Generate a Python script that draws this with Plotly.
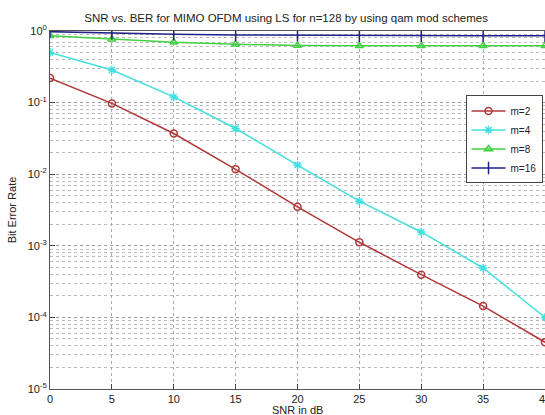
import plotly.graph_objects as go

snr = [0, 5, 10, 15, 20, 25, 30, 35, 40]
ber_m2 = [0.22, 0.0975, 0.037, 0.0117, 0.0035, 0.00112, 0.000395, 0.000144, 0.000045]
ber_m4 = [0.50, 0.285, 0.12, 0.0435, 0.0134, 0.0042, 0.00156, 0.00049, 0.000100]
ber_m8 = [0.86, 0.765, 0.695, 0.655, 0.625, 0.62, 0.62, 0.62, 0.62]
ber_m16 = [0.98, 0.93, 0.90, 0.88, 0.87, 0.86, 0.86, 0.86, 0.86]
labels = ["m=2", "m=4", "m=8", "m=16"]
ytick_vals = [1e-5, 1e-4, 1e-3, 1e-2, 1e-1, 1]
ytick_text = ["10<sup>-5</sup>", "10<sup>-4</sup>", "10<sup>-3</sup>", "10<sup>-2</sup>",
              "10<sup>-1</sup>", "10<sup>0</sup>"]
xtick_vals = [0, 5, 10, 15, 20, 25, 30, 35, 40]

styles = [
    dict(color="#b03838", symbol="circle-open", size=7),
    dict(color="#40e0e0", symbol="asterisk-open", size=7),
    dict(color="#40d040", symbol="triangle-up-open", size=7),
    dict(color="#202088", symbol="line-ns-open", size=9),
]

fig = go.Figure()
for ys, name, st in zip([ber_m2, ber_m4, ber_m8, ber_m16], labels, styles):
    fig.add_trace(go.Scatter(
        x=snr, y=ys, name=name, mode="lines+markers",
        line=dict(color=st["color"], width=1.5),
        marker=dict(symbol=st["symbol"], size=st["size"], color=st["color"],
                    line=dict(color=st["color"], width=1.5)),
    ))

fig.update_layout(
    width=545, height=415,
    margin=dict(l=50, r=0, t=31, b=26, autoexpand=False),
    paper_bgcolor="white", plot_bgcolor="white",
    font=dict(family="Liberation Sans, Arial, sans-serif", size=11, color="#222"),
    title=dict(text="SNR vs. BER for MIMO OFDM using LS for n=128 by using qam mod schemes",
               x=0.525, xanchor="center", y=0.957, yanchor="middle",
               font=dict(size=11.5, color="#222")),
    showlegend=True,
    legend=dict(x=0.995, xanchor="right", y=0.82, yanchor="top",
                bgcolor="white", bordercolor="#444", borderwidth=1,
                font=dict(size=10), itemwidth=34, tracegroupgap=0),
    annotations=[dict(text="SNR in dB", xref="paper", yref="paper",
                      x=0.5, y=-0.06, xanchor="center", yanchor="middle",
                      showarrow=False, font=dict(size=11))],
)
fig.update_xaxes(
    range=[0, 40], tickvals=xtick_vals, ticks="inside", ticklen=5,
    ticklabeloverflow="allow",
    showline=True, linecolor="#555", mirror=True,
    showgrid=True, gridcolor="#aaa", griddash="dot", gridwidth=1,
    zeroline=False,
)
fig.update_yaxes(
    type="log", range=[-5, 0], tickvals=ytick_vals, ticktext=ytick_text,
    ticks="inside", ticklen=5,
    showline=True, linecolor="#555", mirror=True,
    showgrid=True, gridcolor="#999", griddash="dot", gridwidth=1,
    minor=dict(showgrid=True, gridcolor="#bbb", griddash="dot", gridwidth=1,
               ticks="", dtick="D1"),
    zeroline=False,
    title=dict(text="Bit Error Rate", standoff=8, font=dict(size=11)),
)

fig.write_html("out.html")
